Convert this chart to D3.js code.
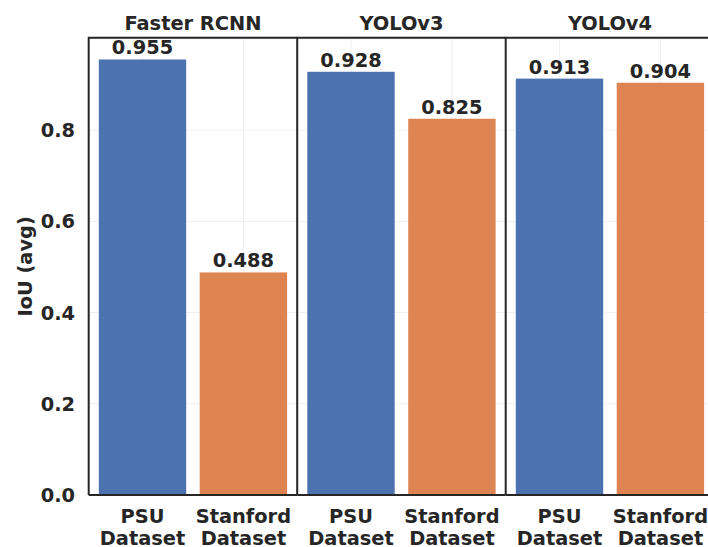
<!DOCTYPE html>
<html>
<head>
<meta charset="utf-8">
<script src="https://cdn.jsdelivr.net/npm/d3@7"></script>
<style>
  body { margin: 0; background: #fff; }
  text { font-family: "DejaVu Sans", sans-serif; font-weight: bold; fill: #262626; }
</style>
</head>
<body>
<div id="chart"></div>
<script>
// data
let models = ["Faster RCNN", "YOLOv3", "YOLOv4"];
let datasets = ["PSU Dataset", "Stanford Dataset"];
let psuIoU = [0.955, 0.928, 0.913];
let stanfordIoU = [0.488, 0.825, 0.904];
let yTicks = [0.0, 0.2, 0.4, 0.6, 0.8];
let colors = ["#4c72b0", "#dd8452"];

let width = 708, height = 547;
let fontSize = 19.4;

// panel geometry
let plotLeft = 88.7, panelW = 208.5, plotTop = 37.7, plotBottom = 495;

let svg = d3.select("#chart")
  .append("svg")
  .attr("width", width)
  .attr("height", height);

let panelScale = d3.scaleBand()
  .domain(models)
  .range([plotLeft, plotLeft + panelW * models.length])
  .padding(0);

let yScale = d3.scaleLinear()
  .domain([0, 0.955 * 1.05])
  .range([plotBottom, plotTop]);

let xScale = d3.scaleBand()
  .domain(datasets)
  .range([0, panelW])
  .paddingInner(0.134)
  .paddingOuter(0.1);

// one group per model
models.forEach((m, i) => {
  let g = svg.append("g")
    .attr("transform", `translate(${panelScale(m)},0)`);

  let vals = [psuIoU[i], stanfordIoU[i]];

  // faint grid
  g.append("g")
    .selectAll("line")
    .data(yTicks.concat([1.0]))
    .enter()
    .append("line")
    .attr("x1", 0)
    .attr("x2", panelW)
    .attr("y1", d => yScale(d))
    .attr("y2", d => yScale(d))
    .attr("stroke", "#f0f0f0")
    .attr("stroke-width", 1);

  g.append("g")
    .selectAll("line")
    .data(datasets)
    .enter()
    .append("line")
    .attr("x1", d => xScale(d) + xScale.bandwidth() / 2)
    .attr("x2", d => xScale(d) + xScale.bandwidth() / 2)
    .attr("y1", plotTop)
    .attr("y2", plotBottom)
    .attr("stroke", "#f0f0f0")
    .attr("stroke-width", 1);

  // bars
  g.append("g")
    .selectAll("rect")
    .data(datasets)
    .enter()
    .append("rect")
    .attr("x", d => xScale(d))
    .attr("width", xScale.bandwidth())
    .attr("y", (d, j) => yScale(vals[j]))
    .attr("height", (d, j) => plotBottom - yScale(vals[j]))
    .attr("fill", (d, j) => colors[j]);

  // value labels
  g.append("g")
    .selectAll("text")
    .data(datasets)
    .enter()
    .append("text")
    .attr("x", d => xScale(d) + xScale.bandwidth() / 2)
    .attr("y", (d, j) => yScale(vals[j]) - 5)
    .attr("text-anchor", "middle")
    .style("font-size", fontSize + "px")
    .text((d, j) => vals[j].toFixed(3));

  // x labels, two lines
  let xl = g.append("g")
    .selectAll("text")
    .data(datasets)
    .enter()
    .append("text")
    .attr("text-anchor", "middle")
    .style("font-size", fontSize + "px");
  xl.each(function(d) {
    let parts = d.split(" ");
    let cx = xScale(d) + xScale.bandwidth() / 2;
    parts.forEach((p, k) => {
      d3.select(this).append("tspan")
        .attr("x", cx)
        .attr("y", 523 + k * 21.5)
        .text(p);
    });
  });

  // panel title
  g.append("text")
    .attr("x", panelW / 2)
    .attr("y", 30)
    .attr("text-anchor", "middle")
    .style("font-size", fontSize + "px")
    .text(m);

  // panel frame: left, top, bottom
  g.append("path")
    .attr("d", `M0,${plotBottom}V${plotTop}H${panelW}M0,${plotBottom}H${panelW}`)
    .attr("fill", "none")
    .attr("stroke", "#262626")
    .attr("stroke-width", 2);
});

// y axis tick labels
svg.append("g")
  .selectAll("text")
  .data(yTicks)
  .enter()
  .append("text")
  .attr("x", 75)
  .attr("y", d => yScale(d))
  .attr("dy", "0.36em")
  .attr("text-anchor", "end")
  .style("font-size", fontSize + "px")
  .text(d => d.toFixed(1));

// y label
svg.append("text")
  .attr("transform", `translate(32,${(plotTop + plotBottom) / 2}) rotate(-90)`)
  .attr("text-anchor", "middle")
  .style("font-size", fontSize + "px")
  .text("IoU (avg)");
</script>
</body>
</html>
